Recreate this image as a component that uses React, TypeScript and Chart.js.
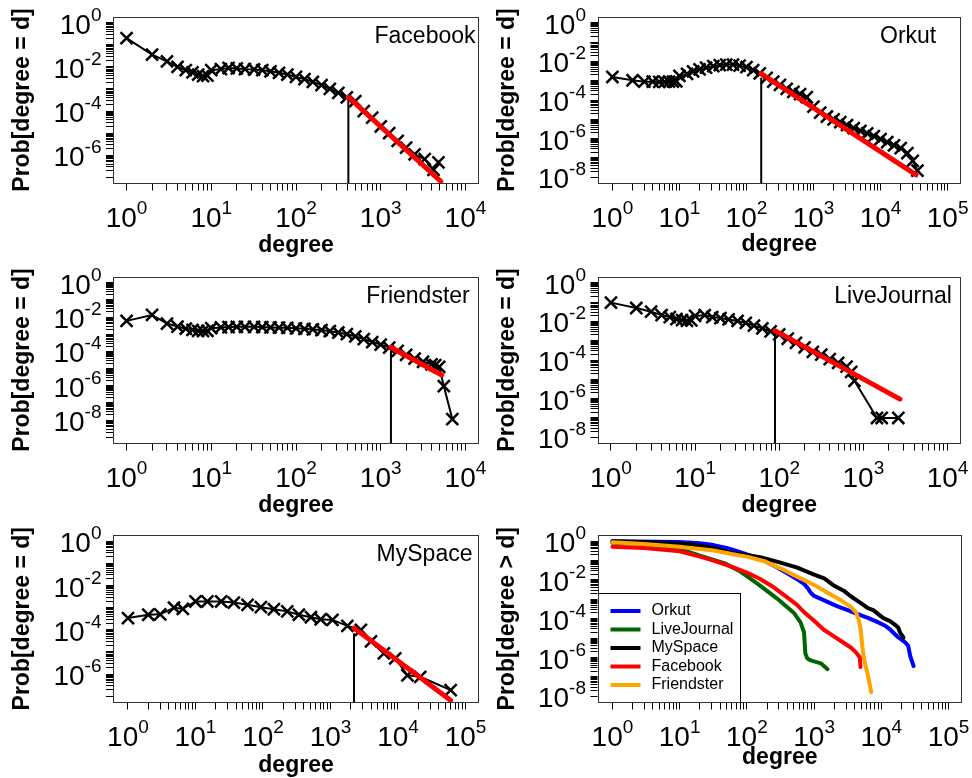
import React, { useEffect, useRef } from 'react';
import { Chart, registerables } from 'chart.js';

Chart.register(...registerables);

const FONT = '"Liberation Sans", Arial, Helvetica, sans-serif';
Chart.defaults.font.family = FONT;
Chart.defaults.color = '#000';

// ================= DATA =================
// Facebook: P(degree = d)
const facebookDegree = [1, 2, 3, 4, 5, 6, 7, 8, 9, 10, 13, 16, 20, 25, 32, 40, 50, 63, 79, 100, 126, 158, 200, 251, 316, 398, 501, 631, 794, 1000, 1259, 1585, 1995, 2512, 3300, 4200, 4800];
const facebookProb = [0.2, 0.0355, 0.0178, 0.01, 0.0071, 0.0056, 0.0045, 0.0038, 0.004, 0.0071, 0.0079, 0.0089, 0.0085, 0.0079, 0.0076, 0.0071, 0.0063, 0.0054, 0.0045, 0.0035, 0.0028, 0.0021, 0.0015, 0.001, 6.6e-4, 4.2e-4, 2.8e-4, 1.0e-4, 5.0e-5, 2.0e-5, 1.0e-5, 4.5e-6, 2.2e-6, 1.1e-6, 6.6e-7, 2.2e-7, 4.7e-7];
const facebookFitDegree = [415, 5120];
const facebookFitProb = [4.3e-4, 6.6e-8];
const facebookCutoffDegree = 415;
const facebookCutoffProb = 4.0e-4;

// Orkut
const orkutDegree = [1, 2, 3, 4, 5, 6, 7, 8, 9, 10, 13, 16, 20, 25, 32, 40, 50, 63, 79, 100, 126, 158, 200, 251, 316, 398, 501, 631, 794, 1000, 1259, 1585, 1995, 2512, 3162, 3981, 5012, 6310, 7943, 10000, 12589, 15849, 19953, 25119, 30200, 35500];
const orkutProb = [1.55e-3, 1.05e-3, 8.9e-4, 8.9e-4, 8.7e-4, 8.7e-4, 8.9e-4, 8.9e-4, 9.3e-4, 1.78e-3, 2.24e-3, 3.0e-3, 3.8e-3, 4.7e-3, 5.6e-3, 6.3e-3, 6.8e-3, 6.8e-3, 6.0e-3, 5.0e-3, 3.5e-3, 2.4e-3, 1.4e-3, 8.9e-4, 6.0e-4, 3.8e-4, 2.6e-4, 2.0e-4, 1.4e-4, 4.5e-5, 2.2e-5, 1.4e-5, 1.0e-5, 7.1e-6, 5.0e-6, 3.5e-6, 2.5e-6, 1.9e-6, 1.35e-6, 9.5e-7, 6.6e-7, 4.5e-7, 3.2e-7, 1.8e-7, 7.1e-8, 2.2e-8];
const orkutFitDegree = [165, 33900];
const orkutFitProb = [2.3e-3, 1.35e-8];
const orkutCutoffDegree = 166;
const orkutCutoffProb = 1.4e-3;

// Friendster
const friendsterDegree = [1, 2, 3, 4, 5, 6, 7, 8, 9, 10, 13, 16, 20, 25, 32, 40, 50, 63, 79, 100, 126, 158, 200, 251, 316, 398, 501, 631, 794, 1000, 1259, 1585, 1995, 2512, 3162, 3981, 4400, 4900, 5560, 7000];
const friendsterProb = [6.0e-3, 1.32e-2, 4.2e-3, 2.8e-3, 2.1e-3, 1.78e-3, 1.58e-3, 1.51e-3, 1.58e-3, 2.24e-3, 2.5e-3, 2.6e-3, 2.7e-3, 2.7e-3, 2.7e-3, 2.6e-3, 2.5e-3, 2.4e-3, 2.35e-3, 2.2e-3, 2.05e-3, 1.9e-3, 1.74e-3, 1.51e-3, 1.26e-3, 1.0e-3, 7.6e-4, 5.2e-4, 3.5e-4, 2.5e-4, 1.66e-4, 1.07e-4, 6.3e-5, 3.8e-5, 2.5e-5, 1.78e-5, 1.58e-5, 1.26e-5, 9.5e-7, 1.15e-8];
const friendsterFitDegree = [1320, 5250];
const friendsterFitProb = [1.7e-4, 4.2e-6];
const friendsterCutoffDegree = 1320;
const friendsterCutoffProb = 1.4e-4;

// LiveJournal
const liveJournalDegree = [1, 2, 3, 4, 5, 6, 7, 8, 9, 10, 13, 16, 20, 25, 32, 40, 50, 63, 79, 100, 126, 158, 200, 251, 316, 398, 501, 631, 716, 783, 1450, 1650, 2600];
const liveJournalProb = [0.093, 0.049, 0.0316, 0.0209, 0.0166, 0.0132, 0.0117, 0.0107, 0.0112, 0.019, 0.0209, 0.0166, 0.0148, 0.0126, 0.0105, 0.0083, 0.006, 0.0043, 0.003, 0.0021, 1.26e-3, 7.6e-4, 4.5e-4, 2.6e-4, 1.9e-4, 1.12e-4, 7.1e-5, 4.5e-5, 2.4e-5, 8.3e-6, 1e-7, 1e-7, 1e-7];
const liveJournalFitDegree = [89, 2717];
const liveJournalFitProb = [3.3e-3, 9.5e-7];
const liveJournalCutoffDegree = 89;
const liveJournalCutoffProb = 2.8e-3;

// MySpace
const mySpaceDegree = [1, 2, 3, 4.8, 6.5, 10, 15, 24, 37, 59, 93, 145, 229, 340, 513, 716, 1070, 1780, 2820, 3980, 6170, 9120, 13800, 21400, 60300];
const mySpaceProb = [3.4e-4, 4.8e-4, 5.0e-4, 1.0e-3, 8.9e-4, 1.9e-3, 1.9e-3, 1.9e-3, 1.7e-3, 1.35e-3, 1.05e-3, 8.5e-4, 6.8e-4, 4.8e-4, 3.7e-4, 3.0e-4, 2.8e-4, 1.5e-4, 1.0e-4, 3.0e-5, 8.7e-6, 5.1e-6, 8.9e-7, 7.6e-7, 1.9e-7];
const mySpaceFitDegree = [2230, 60000];
const mySpaceFitProb = [1.2e-4, 6.6e-8];
const mySpaceCutoffDegree = 2230;
const mySpaceCutoffProb = 7.0e-5;

// CCDF: P(degree > d)
const ccdfOrkutDegree = [1, 10, 20, 32, 50, 74, 100, 145, 200, 288, 398, 562, 708, 794, 891, 1000, 1413, 2188, 3162, 4365, 6310, 8511, 11220, 13490, 17780, 22390, 25120, 26920, 30200];
const ccdfOrkutProb = [1, 0.91, 0.79, 0.63, 0.45, 0.3, 0.21, 0.14, 0.083, 0.043, 0.022, 0.0107, 0.0063, 0.004, 0.0022, 0.0015, 8.9e-4, 4.5e-4, 2.8e-4, 1.78e-4, 1.12e-4, 7.1e-5, 4.5e-5, 2.8e-5, 1.12e-5, 6.3e-6, 4.0e-6, 1.17e-6, 3.6e-7];
const ccdfLiveJournalDegree = [1, 3, 10, 20, 46, 79, 145, 282, 501, 631, 708, 741, 794, 891, 1259, 1585];
const ccdfLiveJournalProb = [0.83, 0.71, 0.4, 0.178, 0.074, 0.028, 0.0063, 0.0011, 2.0e-4, 6.3e-5, 2.0e-5, 1.6e-6, 8.9e-7, 7.1e-7, 5.0e-7, 2.5e-7];
const ccdfMySpaceDegree = [1, 6, 15, 32, 59, 100, 158, 316, 562, 1000, 1413, 1995, 2754, 3548, 4898, 6310, 7586, 8913, 10720, 13490, 15850, 17780, 19050, 21380];
const ccdfMySpaceProb = [1, 0.83, 0.68, 0.45, 0.25, 0.19, 0.15, 0.079, 0.043, 0.019, 0.012, 0.005, 0.0028, 0.0014, 6.6e-4, 3.5e-4, 2.8e-4, 1.78e-4, 1.07e-4, 7.6e-5, 5.0e-5, 3.5e-5, 1.9e-5, 1.05e-5];
const ccdfFacebookDegree = [1, 3, 10, 20, 32, 63, 100, 158, 251, 398, 562, 708, 1000, 1380, 1995, 2512, 3548, 4169, 4786, 4900];
const ccdfFacebookProb = [0.51, 0.44, 0.3, 0.16, 0.1, 0.045, 0.024, 0.0112, 0.0042, 0.00126, 5.0e-4, 2.2e-4, 7.9e-5, 2.8e-5, 1.2e-5, 7.1e-6, 3.2e-6, 1.9e-6, 1.0e-6, 3.2e-7];
const ccdfFriendsterDegree = [1, 3, 10, 32, 59, 100, 182, 316, 501, 1000, 1585, 2512, 3548, 4169, 4571, 4898, 5248, 5623, 6310, 7080];
const ccdfFriendsterProb = [0.89, 0.71, 0.52, 0.33, 0.22, 0.16, 0.093, 0.04, 0.0178, 0.0056, 0.0022, 8.9e-4, 4.0e-4, 2.2e-4, 1.0e-4, 3.2e-5, 3.2e-6, 6.3e-7, 1.26e-7, 1.6e-8];

// Axis decades and labelled exponents (tick labels are 10^e)
const xDecades4 = [0, 4];
const xDecades5 = [0, 5];
const xLabels4 = [0, 1, 2, 3, 4];
const xLabels5 = [0, 1, 2, 3, 4, 5];
const yLabels7 = [0, -2, -4, -6];
const yLabels8 = [0, -2, -4, -6, -8];

// ================= HELPERS =================
const MAIN_FONT = `28px ${FONT}`;
const EXP_FONT = `19px ${FONT}`;

const decadeTicks = (lo: number, hi: number) => {
  const out: { value: number }[] = [];
  for (let e = lo; e < hi; e++) {
    for (let m = 1; m <= 9; m++) out.push({ value: Number((m * Math.pow(10, e)).toPrecision(10)) });
  }
  out.push({ value: Math.pow(10, hi) });
  return out;
};

const pts = (xs: number[], ys: number[]) => xs.map((x, i) => ({ x, y: ys[i] }));

// Draws "10" with a raised exponent at a tick position given by the chart's own scale.
function drawPower(ctx: CanvasRenderingContext2D, e: number, anchorX: number, baseY: number, align: 'center' | 'right') {
  const expText = String(e);
  ctx.font = MAIN_FONT;
  const w1 = ctx.measureText('10').width;
  ctx.font = EXP_FONT;
  const w2 = ctx.measureText(expText).width;
  const left = align === 'center' ? anchorX - (w1 + w2) / 2 : anchorX - (w1 + w2);
  ctx.textAlign = 'left';
  ctx.textBaseline = 'alphabetic';
  ctx.font = MAIN_FONT;
  ctx.fillText('10', left, baseY);
  ctx.font = EXP_FONT;
  ctx.fillText(expText, left + w1, baseY - 13);
}

const decorPlugin = {
  id: 'decor',
  afterDraw(chart: any, _args: any, opts: any) {
    const { ctx, chartArea: a } = chart;
    const xs = chart.scales.x;
    const ys = chart.scales.y;
    ctx.save();
    if (opts.legend) {
      const lx = a.left;
      const ly = a.bottom - 110;
      ctx.fillStyle = '#fff';
      ctx.fillRect(lx, ly, 142, a.bottom - ly);
      ctx.strokeStyle = '#000';
      ctx.lineWidth = 1;
      ctx.strokeRect(Math.round(lx) + 0.5, Math.round(ly) + 0.5, 142, Math.round(a.bottom - ly) - 1);
      chart.data.datasets.forEach((ds: any, i: number) => {
        const y = a.bottom - 91.5 + i * 18.5;
        ctx.strokeStyle = ds.borderColor;
        ctx.lineWidth = 4;
        ctx.lineCap = 'butt';
        ctx.beginPath();
        ctx.moveTo(lx + 13, y);
        ctx.lineTo(lx + 43, y);
        ctx.stroke();
        ctx.fillStyle = '#000';
        ctx.font = `16px ${FONT}`;
        ctx.textAlign = 'left';
        ctx.textBaseline = 'middle';
        ctx.fillText(ds.label, lx + 54, y);
      });
    }
    // plot frame
    ctx.strokeStyle = '#333';
    ctx.lineWidth = 1;
    const x0 = Math.round(a.left) + 0.5;
    const y0 = Math.round(a.top) + 0.5;
    const x1 = Math.round(a.right) - 0.5;
    const y1 = Math.round(a.bottom) - 0.5;
    ctx.strokeRect(x0, y0, x1 - x0, y1 - y0);
    // tick labels 10^e
    ctx.fillStyle = '#000';
    (opts.xLabels || []).forEach((e: number) => {
      drawPower(ctx, e, xs.getPixelForValue(Math.pow(10, e)), a.bottom + 43, 'center');
    });
    (opts.yLabels || []).forEach((e: number) => {
      drawPower(ctx, e, a.left - 11.5, ys.getPixelForValue(Math.pow(10, e)) + 11, 'right');
    });
    // network name
    if (opts.label) {
      ctx.fillStyle = '#000';
      ctx.font = `23px ${FONT}`;
      ctx.textAlign = 'left';
      ctx.textBaseline = 'alphabetic';
      ctx.fillText(opts.label, a.right + opts.labelDx, a.top + 26);
    }
    ctx.restore();
  },
};

interface Panel {
  id: string;
  canvas: { left: number; top: number; width: number; height: number };
  area: { left: number; top: number; right: number; bottom: number };
  xRange: number[];
  yRange: number[];
  xLabels: number[];
  yLabels: number[];
  yTitle: string;
  yTitlePad: number;
  xTitlePad: number;
  label?: string;
  labelDx?: number;
  legend?: boolean;
  makeDatasets: (yMin: number) => any[];
}

const pdfSets = (deg: number[], prob: number[], fitDeg: number[], fitProb: number[], cutDeg: number, cutProb: number) =>
  (yMin: number) => [
    { label: 'fit', data: pts(fitDeg, fitProb), borderColor: '#ff0000', borderWidth: 5, pointRadius: 0, borderCapStyle: 'round', order: 0 },
    { label: 'cutoff', data: pts([cutDeg, cutDeg], [yMin, cutProb]), borderColor: '#000', borderWidth: 2, pointRadius: 0, order: 1 },
    {
      label: 'data', data: pts(deg, prob), borderColor: '#000', borderWidth: 2,
      pointStyle: 'crossRot', pointRadius: 8.5, pointBorderWidth: 2.5, pointBorderColor: '#000',
      pointBackgroundColor: 'rgba(0,0,0,0)', order: 2,
    },
  ];

const ccdfSets = () => [
  { label: 'Orkut', data: pts(ccdfOrkutDegree, ccdfOrkutProb), borderColor: '#0000ff', order: 5 },
  { label: 'LiveJournal', data: pts(ccdfLiveJournalDegree, ccdfLiveJournalProb), borderColor: '#006400', order: 4 },
  { label: 'MySpace', data: pts(ccdfMySpaceDegree, ccdfMySpaceProb), borderColor: '#000000', order: 3 },
  { label: 'Facebook', data: pts(ccdfFacebookDegree, ccdfFacebookProb), borderColor: '#ff0000', order: 2 },
  { label: 'Friendster', data: pts(ccdfFriendsterDegree, ccdfFriendsterProb), borderColor: '#ffa500', order: 1 },
].map((d) => ({ ...d, borderWidth: 4, pointRadius: 0, borderCapStyle: 'round', borderJoinStyle: 'round' }));

const LEFT = { l: 113, r: 479, cx: 0, cw: 490 };
const RIGHT = { l: 597.5, r: 962, cx: 490, cw: 482 };
const ROWS = [
  { t: 16.5, b: 183.5, cy: 0, ch: 260 },
  { t: 276.5, b: 443.5, cy: 260, ch: 260 },
  { t: 535, b: 702.5, cy: 520, ch: 258 },
];
const place = (col: any, row: any) => ({
  canvas: { left: col.cx, top: row.cy, width: col.cw, height: row.ch },
  area: { left: col.l, top: row.t, right: col.r, bottom: row.b },
});

const PANELS: Panel[] = [
  {
    id: 'facebook', ...place(LEFT, ROWS[0]), xRange: xDecades4, yRange: [-7, 0], xLabels: xLabels4, yLabels: yLabels7,
    yTitle: 'Prob[degree = d]', yTitlePad: 10.7, xTitlePad: 3, label: 'Facebook', labelDx: -104.5,
    makeDatasets: pdfSets(facebookDegree, facebookProb, facebookFitDegree, facebookFitProb, facebookCutoffDegree, facebookCutoffProb),
  },
  {
    id: 'orkut', ...place(RIGHT, ROWS[0]), xRange: xDecades5, yRange: [-8, 0], xLabels: xLabels5, yLabels: yLabels8,
    yTitle: 'Prob[degree = d]', yTitlePad: 6.5, xTitlePad: 3.8, label: 'Orkut', labelDx: -81,
    makeDatasets: pdfSets(orkutDegree, orkutProb, orkutFitDegree, orkutFitProb, orkutCutoffDegree, orkutCutoffProb),
  },
  {
    id: 'friendster', ...place(LEFT, ROWS[1]), xRange: xDecades4, yRange: [-9, 0], xLabels: xLabels4, yLabels: yLabels8,
    yTitle: 'Prob[degree = d]', yTitlePad: 10.7, xTitlePad: 3, label: 'Friendster', labelDx: -112.8,
    makeDatasets: pdfSets(friendsterDegree, friendsterProb, friendsterFitDegree, friendsterFitProb, friendsterCutoffDegree, friendsterCutoffProb),
  },
  {
    id: 'livejournal', ...place(RIGHT, ROWS[1]), xRange: xDecades4, yRange: [-8, 0], xLabels: xLabels4, yLabels: yLabels8,
    yTitle: 'Prob[degree = d]', yTitlePad: 6.5, xTitlePad: 3, label: 'LiveJournal', labelDx: -126.7,
    makeDatasets: pdfSets(liveJournalDegree, liveJournalProb, liveJournalFitDegree, liveJournalFitProb, liveJournalCutoffDegree, liveJournalCutoffProb),
  },
  {
    id: 'myspace', ...place(LEFT, ROWS[2]), xRange: xDecades5, yRange: [-7, 0], xLabels: xLabels5, yLabels: yLabels7,
    yTitle: 'Prob[degree = d]', yTitlePad: 10.7, xTitlePad: 0.9, label: 'MySpace', labelDx: -102.4,
    makeDatasets: pdfSets(mySpaceDegree, mySpaceProb, mySpaceFitDegree, mySpaceFitProb, mySpaceCutoffDegree, mySpaceCutoffProb),
  },
  {
    id: 'ccdf', ...place(RIGHT, ROWS[2]), xRange: xDecades5, yRange: [-8, 0], xLabels: xLabels5, yLabels: yLabels8,
    yTitle: 'Prob[degree > d]', yTitlePad: 6.5, xTitlePad: 9.3, legend: true,
    makeDatasets: () => ccdfSets(),
  },
];

function buildConfig(p: Panel): any {
  const [xlo, xhi] = p.xRange;
  const [ylo, yhi] = p.yRange;
  const xpad = 0.04 * (xhi - xlo);
  const ypad = 0.04 * (yhi - ylo);
  const yMin = Math.pow(10, ylo - ypad);
  const c = p.canvas;
  const a = p.area;
  const yWidth = a.left - c.left;
  const xHeight = c.top + c.height - a.bottom;
  const titleFont = { family: FONT, size: 23, weight: 'bold' as const, lineHeight: 1 };
  const grid = { display: true, drawOnChartArea: false, drawTicks: true, tickLength: 7, color: '#000', lineWidth: 1 };
  const noLabel = () => '';
  return {
    type: 'line',
    data: { datasets: p.makeDatasets(yMin) },
    options: {
      responsive: false,
      animation: false,
      devicePixelRatio: 1,
      events: [],
      layout: { padding: { left: 0, top: a.top - c.top, right: c.left + c.width - a.right, bottom: 0 } },
      elements: { line: { tension: 0 } },
      plugins: {
        legend: { display: false },
        tooltip: { enabled: false },
        decor: { label: p.label, labelDx: p.labelDx, legend: !!p.legend, xLabels: p.xLabels, yLabels: p.yLabels },
      },
      scales: {
        x: {
          type: 'logarithmic',
          min: Math.pow(10, xlo - xpad),
          max: Math.pow(10, xhi + xpad),
          afterBuildTicks: (s: any) => { s.ticks = decadeTicks(xlo, xhi); },
          afterFit: (s: any) => {
            s.height = xHeight;
            s.paddingLeft = 0; s.paddingRight = 0; s.paddingTop = 0; s.paddingBottom = 0;
          },
          ticks: { autoSkip: false, maxRotation: 0, minRotation: 0, padding: 7, color: '#000', font: { size: 12 }, callback: noLabel },
          grid,
          border: { display: false },
          title: { display: true, text: 'degree', color: '#000', font: titleFont, padding: { top: 0, bottom: p.xTitlePad } },
        },
        y: {
          type: 'logarithmic',
          min: yMin,
          max: Math.pow(10, yhi + ypad),
          afterBuildTicks: (s: any) => { s.ticks = decadeTicks(ylo, yhi); },
          afterFit: (s: any) => {
            s.width = yWidth;
            s.paddingLeft = 0; s.paddingRight = 0; s.paddingTop = 0; s.paddingBottom = 0;
          },
          ticks: { autoSkip: false, padding: 4, color: '#000', font: { size: 12 }, callback: noLabel },
          grid,
          border: { display: false },
          title: { display: true, text: p.yTitle, color: '#000', font: titleFont, padding: { top: p.yTitlePad, bottom: 0 } },
        },
      },
    },
    plugins: [decorPlugin],
  };
}

function PanelCanvas({ panel }: { panel: Panel }) {
  const ref = useRef<HTMLCanvasElement | null>(null);
  useEffect(() => {
    if (!ref.current) return;
    const chart = new Chart(ref.current, buildConfig(panel));
    return () => chart.destroy();
  }, [panel]);
  const c = panel.canvas;
  return (
    <canvas
      ref={ref}
      width={c.width}
      height={c.height}
      style={{ position: 'absolute', left: c.left, top: c.top, width: c.width, height: c.height }}
    />
  );
}

export default function App() {
  return (
    <div style={{ position: 'absolute', left: 0, top: 0, width: 972, height: 778, background: '#fff', overflow: 'hidden' }}>
      {PANELS.map((p) => (
        <PanelCanvas key={p.id} panel={p} />
      ))}
    </div>
  );
}
